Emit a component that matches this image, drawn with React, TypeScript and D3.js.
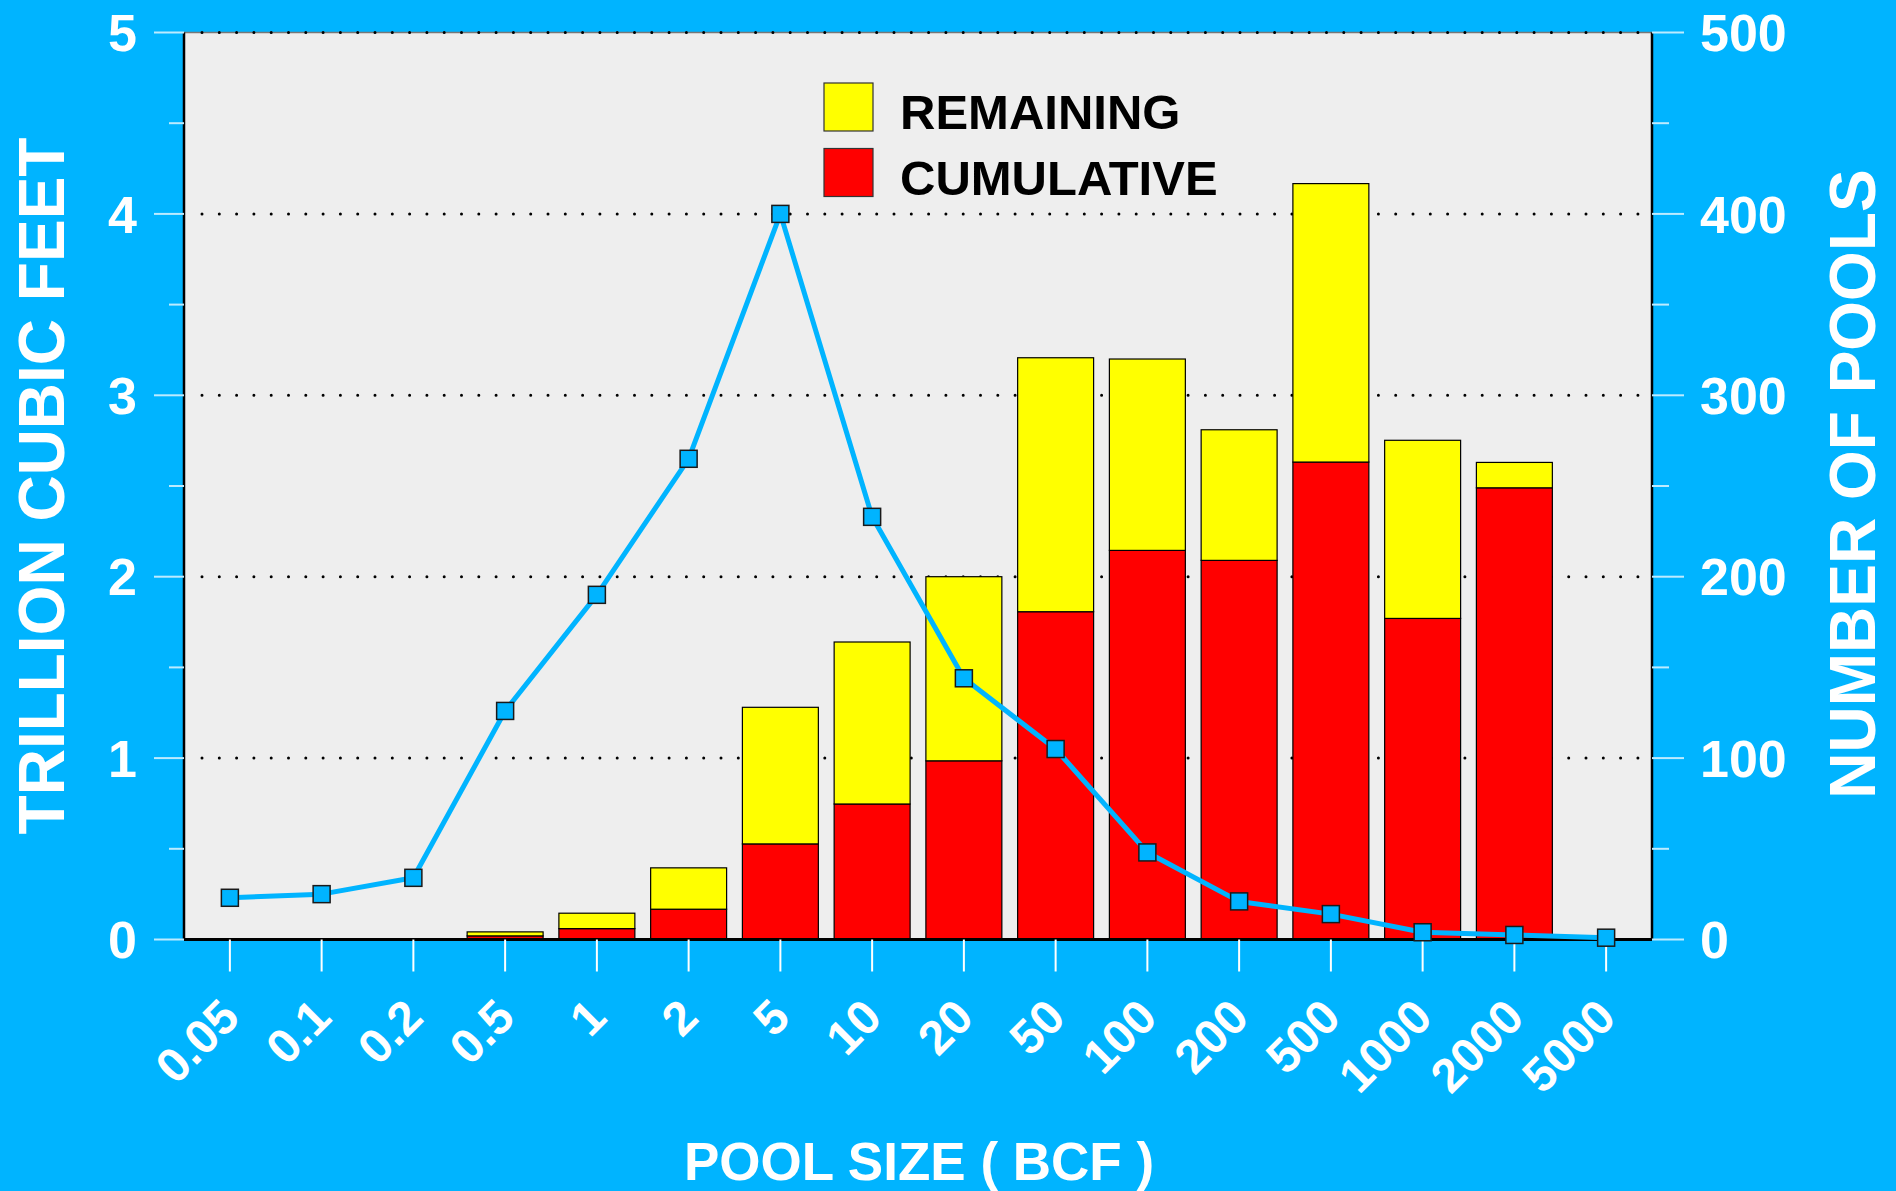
import React from "react";
import * as d3 from "d3";

const categories = ["0.05", "0.1", "0.2", "0.5", "1", "2", "5", "10", "20", "50", "100", "200", "500", "1000", "2000", "5000"];
const cumulative = [0, 0, 0, 0.02, 0.06, 0.167, 0.527, 0.747, 0.985, 1.807, 2.145, 2.09, 2.632, 1.77, 2.49, 0];
const remaining = [0, 0, 0, 0.022, 0.085, 0.228, 0.753, 0.893, 1.015, 1.4, 1.055, 0.72, 1.535, 0.982, 0.14, 0];
const pools = [23, 25, 34, 126, 190, 265, 400, 233, 144, 105, 48, 21, 14, 4, 2.5, 1];
const leftTicks = [0, 1, 2, 3, 4, 5];
const leftMinor = [0.5, 1.5, 2.5, 3.5, 4.5];
const rightTicks = [0, 100, 200, 300, 400, 500];
const rightMinor = [50, 150, 250, 350, 450];
const seriesKeys = ["cumulative", "remaining"];
const seriesColors = ["#FF0000", "#FFFF00"];
const legendLabels = ["REMAINING", "CUMULATIVE"];

const W = 1896;
const H = 1191;
const PL = 184, PR = 1652, PT = 32.5, PB = 939.5;
const BG = "#00B4FF";
const FONT = "'Liberation Sans', Arial, Helvetica, sans-serif";

export default function App() {
  const x = d3.scaleBand<string>().domain(categories).range([PL, PR]).paddingInner(0.172).paddingOuter(0.086);
  const yL = d3.scaleLinear().domain([0, 5]).range([PB, PT]);
  const yR = d3.scaleLinear().domain([0, 500]).range([PB, PT]);
  const table = categories.map((c, i) => ({ cat: c, cumulative: cumulative[i], remaining: remaining[i] }));
  const stacked = d3.stack<any>().keys(seriesKeys)(table);
  const cx = (c: string) => (x(c) as number) + x.bandwidth() / 2;
  const line = d3.line<number>().x((_, i) => cx(categories[i])).y((d) => yR(d));

  return (
    <svg width={W} height={H} style={{ position: "absolute", left: 0, top: 0, display: "block" }} fontFamily={FONT} fontWeight="bold">
      <rect x={0} y={0} width={W} height={H} fill={BG} />
      <rect x={PL} y={PT} width={PR - PL} height={PB - PT} fill="#EEEEEE" />
      <line x1={PL} x2={PR} y1={PT} y2={PT} stroke="#777" strokeWidth={1.5} />
      {leftTicks.slice(1).map((t) => (
        <line key={"g" + t} x1={PL + 18} x2={PR} y1={yL(t)} y2={yL(t)} stroke="#000" strokeWidth={3} strokeDasharray="0 17.3" strokeLinecap="round" />
      ))}
      {stacked.map((s, si) => (
        <g key={s.key}>
          {s.map((d, i) => {
            const v = d[1] - d[0];
            if (v <= 0) return null;
            return (
              <rect key={i} x={x(categories[i])} width={x.bandwidth()} y={yL(d[1])} height={yL(d[0]) - yL(d[1])} fill={seriesColors[si]} stroke="#000" strokeWidth={1.2} />
            );
          })}
        </g>
      ))}
      {/* axes frame */}
      <line x1={PL} x2={PL} y1={PT} y2={PB} stroke="#000" strokeWidth={2.5} />
      <line x1={PR} x2={PR} y1={PT} y2={PB} stroke="#000" strokeWidth={2.5} />
      <line x1={PL} x2={PR} y1={PB} y2={PB} stroke="#000" strokeWidth={3} />
      {/* left ticks */}
      {leftTicks.map((t) => (
        <g key={"lt" + t}>
          <line x1={PL - 30} x2={PL} y1={yL(t)} y2={yL(t)} stroke="#BDEBFF" strokeWidth={2} />
          <text x={137} y={yL(t)} dy="0.36em" textAnchor="end" fill="#fff" fontSize={52}>{t}</text>
        </g>
      ))}
      {leftMinor.map((t) => (
        <line key={"lm" + t} x1={PL - 15} x2={PL} y1={yL(t)} y2={yL(t)} stroke="#BDEBFF" strokeWidth={2} />
      ))}
      {/* right ticks */}
      {rightTicks.map((t) => (
        <g key={"rt" + t}>
          <line x1={PR} x2={PR + 32} y1={yR(t)} y2={yR(t)} stroke="#BDEBFF" strokeWidth={2} />
          <text x={1700} y={yR(t)} dy="0.36em" textAnchor="start" fill="#fff" fontSize={52}>{t}</text>
        </g>
      ))}
      {rightMinor.map((t) => (
        <line key={"rm" + t} x1={PR} x2={PR + 17} y1={yR(t)} y2={yR(t)} stroke="#BDEBFF" strokeWidth={2} />
      ))}
      {/* x ticks */}
      {categories.map((c) => (
        <g key={"xt" + c}>
          <line x1={cx(c)} x2={cx(c)} y1={PB} y2={PB + 32} stroke="#fff" strokeWidth={2} />
          <text transform={`translate(${cx(c)},${1008}) rotate(-45)`} dy="0.35em" textAnchor="end" fill="#fff" fontSize={48}>{c}</text>
        </g>
      ))}
      {/* line */}
      <path d={line(pools) || ""} fill="none" stroke={BG} strokeWidth={5} strokeLinejoin="round" />
      {pools.map((p, i) => (
        <rect key={"m" + i} x={cx(categories[i]) - 8.5} y={yR(p) - 8.5} width={17} height={17} fill={BG} stroke="#1a1a1a" strokeWidth={1.5} />
      ))}
      {/* legend */}
      {legendLabels.map((l, i) => (
        <g key={l}>
          <rect x={824} y={83 + i * 65.5} width={49} height={48} fill={i === 0 ? seriesColors[1] : seriesColors[0]} stroke="#333" strokeWidth={1.2} />
          <text x={900} y={129 + i * 65.5} fill="#000" fontSize={49}>{l}</text>
        </g>
      ))}
      {/* titles */}
      <text transform={`translate(64,${(PT + PB) / 2}) rotate(-90)`} textAnchor="middle" fill="#fff" fontSize={64}>TRILLION CUBIC FEET</text>
      <text transform={`translate(1875,${(PT + PB) / 2 - 2}) rotate(-90)`} textAnchor="middle" fill="#fff" fontSize={64}>NUMBER OF POOLS</text>
      <text x={919} y={1180} textAnchor="middle" fill="#fff" fontSize={53}>POOL SIZE ( BCF )</text>
    </svg>
  );
}
